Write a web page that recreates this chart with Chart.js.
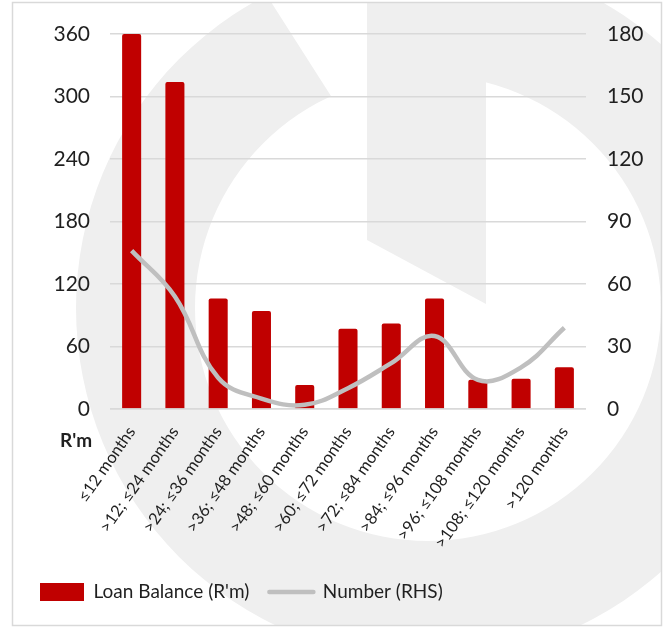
<!DOCTYPE html>
<html>
<head>
<meta charset="utf-8">
<script src="https://cdn.jsdelivr.net/npm/chart.js@4"></script>
<style>
  html, body { margin: 0; padding: 0; background: #fff; }
  #wrap { position: relative; width: 665px; height: 628px; }
</style>
</head>
<body>
<div id="wrap"><canvas id="myChart"></canvas></div>
<script>
// term buckets on the x axis
const categories = ['≤12 months', '>12; ≤24 months', '>24; ≤36 months', '>36; ≤48 months', '>48; ≤60 months',
  '>60; ≤72 months', '>72; ≤84 months', '>84; ≤96 months', '>96; ≤108 months', '>108; ≤120 months', '>120 months']

// loan balance in R'm (left axis)
const loanBalance = [360, 314, 106, 94, 23, 77, 82, 106, 28, 29, 40]

// number of loans (right axis)
const loanNumber = [76, 54, 15, 5, 2, 10, 22, 35, 14, 20, 39]

// axis ranges
const leftTicks = [0, 60, 120, 180, 240, 300, 360]
const rightTicks = [0, 30, 60, 90, 120, 150, 180]

const FONT = 'Lato, "DejaVu Sans", sans-serif'
const INK = '#1f1f1f'
const RED = '#c00000'
const GREY = '#bfbfbf'

// faint logo ring behind the chart, plus the outer frame
const backdrop = {
  id: 'backdrop',
  beforeDraw(chart) {
    const ctx = chart.ctx
    ctx.save()
    ctx.beginPath()
    ctx.rect(13, 3, 648, 622)
    ctx.clip()
    ctx.fillStyle = '#efefef'

    // ring, with the opening at the top left
    ctx.save()
    ctx.beginPath()
    ctx.rect(0, 0, chart.width, chart.height)
    ctx.moveTo(257, -20)
    ctx.lineTo(345, 118)
    ctx.lineTo(367, 118)
    ctx.lineTo(367, -20)
    ctx.closePath()
    ctx.clip('evenodd')
    ctx.beginPath()
    ctx.arc(428, 308, 352, 0, Math.PI * 2)
    ctx.arc(428, 308, 233, 0, Math.PI * 2)
    ctx.fill('evenodd')
    ctx.restore()

    // vertical stem
    ctx.beginPath()
    ctx.moveTo(367, 0)
    ctx.lineTo(486, 0)
    ctx.lineTo(486, 304)
    ctx.lineTo(367, 240)
    ctx.closePath()
    ctx.fill()
    ctx.restore()

    ctx.save()
    ctx.strokeStyle = '#d9d9d9'
    ctx.lineWidth = 1.5
    ctx.strokeRect(12.5, 2.5, 649, 623)
    ctx.restore()
  },
  afterDatasetsDraw(chart) {
    // zero line sits on top of the bars
    const ctx = chart.ctx
    const y = chart.scales.y.getPixelForValue(0)
    ctx.save()
    ctx.strokeStyle = 'rgba(217,217,217,0.75)'
    ctx.lineWidth = 1.5
    ctx.beginPath()
    ctx.moveTo(chart.chartArea.left, y)
    ctx.lineTo(chart.chartArea.right, y)
    ctx.stroke()
    ctx.restore()
  },
  afterDraw(chart) {
    // unit label under the left axis
    const ctx = chart.ctx
    ctx.save()
    ctx.font = 'bold 19px ' + FONT
    ctx.fillStyle = INK
    ctx.textAlign = 'left'
    ctx.textBaseline = 'alphabetic'
    ctx.fillText("R'm", 60, 447)
    ctx.restore()
  }
}

const legendPad = 20

const ctx = document.getElementById('myChart').getContext('2d')
const chart = new Chart(ctx, {
  type: 'bar',
  data: {
    labels: categories,
    datasets: [{
      type: 'line',
      label: 'Number (RHS)',
      data: loanNumber,
      yAxisID: 'y1',
      borderColor: GREY,
      backgroundColor: GREY,
      borderWidth: 4.5,
      pointRadius: 0,
      tension: 0.4,
      order: 0
    }, {
      label: "Loan Balance (R'm)",
      data: loanBalance,
      yAxisID: 'y',
      backgroundColor: RED,
      borderRadius: { topLeft: 2, topRight: 2 },
      borderSkipped: 'bottom',
      categoryPercentage: 1,
      barPercentage: 0.44,
      order: 1
    }]
  },
  plugins: [backdrop],
  options: {
    responsive: true,
    maintainAspectRatio: false,
    animation: false,
    layout: { padding: { top: 34, left: 40 - legendPad, right: 0, bottom: 16.5 } },
    plugins: {
      tooltip: { enabled: false },
      legend: {
        position: 'bottom',
        align: 'start',
        labels: {
          color: INK,
          font: { family: FONT, size: 19 },
          padding: legendPad,
          usePointStyle: true,
          pointStyleWidth: 44,
          boxHeight: 18,
          generateLabels: (c) => {
            const ds = c.data.datasets
            return [
              { text: ds[1].label, fillStyle: RED, strokeStyle: RED, lineWidth: 0, pointStyle: 'rect', datasetIndex: 1, hidden: false, fontColor: INK },
              { text: ds[0].label, fillStyle: GREY, strokeStyle: GREY, lineWidth: 4.5, lineCap: 'round', pointStyle: 'line', datasetIndex: 0, hidden: false, fontColor: INK }
            ]
          }
        }
      }
    },
    scales: {
      x: {
        grid: { display: false, drawTicks: false },
        border: { display: false },
        ticks: {
          color: INK,
          font: { family: FONT, size: 16.5 },
          minRotation: 55,
          maxRotation: 55,
          padding: 14,
          autoSkip: false
        },
        afterFit: (s) => { s.height = 153.5 }
      },
      y: {
        position: 'left',
        min: 0,
        max: 360,
        afterBuildTicks: (s) => { s.ticks = leftTicks.map(v => ({ value: v })) },
        grid: { color: '#d9d9d9', lineWidth: 1.5, drawTicks: false },
        border: { display: false },
        ticks: { color: INK, font: { family: FONT, size: 21 }, padding: 20 },
        afterFit: (s) => { s.width = 110 - (40 - legendPad) }
      },
      y1: {
        position: 'right',
        min: 0,
        max: 180,
        afterBuildTicks: (s) => { s.ticks = rightTicks.map(v => ({ value: v })) },
        grid: { display: false, drawTicks: false },
        border: { display: false },
        ticks: { color: INK, font: { family: FONT, size: 21 }, padding: 21 },
        afterFit: (s) => { s.width = 665 - 586 }
      }
    }
  }
})
</script>
</body>
</html>
